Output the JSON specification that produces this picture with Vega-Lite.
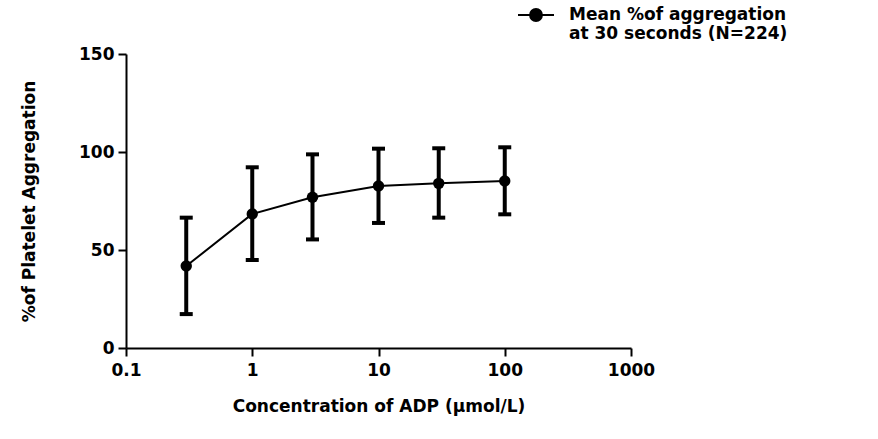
{
  "$schema": "https://vega.github.io/schema/vega-lite/v6.json",
  "autosize": "none",
  "width": 505,
  "height": 294,
  "padding": {"left": 126, "top": 54, "right": 247, "bottom": 91},
  "background": "white",
  "config": {
    "view": {"stroke": null},
    "axis": {
      "domainColor": "black", "domainWidth": 2,
      "tickColor": "black", "tickWidth": 2, "tickSize": 8,
      "labelFont": "DejaVu Sans", "labelFontWeight": "bold", "labelFontSize": 17, "labelColor": "black",
      "titleFont": "DejaVu Sans", "titleFontWeight": "bold", "titleFontSize": 17, "titleColor": "black",
      "grid": false
    }
  },
  "data": {
    "values": [
      {"conc": 0.3, "mean": 41.8, "lo": 17.3, "hi": 66.5, "series": "Mean %of aggregation"},
      {"conc": 1, "mean": 68.4, "lo": 44.9, "hi": 92.2, "series": "Mean %of aggregation"},
      {"conc": 3, "mean": 76.9, "lo": 55.4, "hi": 98.8, "series": "Mean %of aggregation"},
      {"conc": 10, "mean": 82.7, "lo": 63.8, "hi": 101.7, "series": "Mean %of aggregation"},
      {"conc": 30, "mean": 84.0, "lo": 66.5, "hi": 101.9, "series": "Mean %of aggregation"},
      {"conc": 100, "mean": 85.2, "lo": 68.2, "hi": 102.4, "series": "Mean %of aggregation"}
    ]
  },
  "encoding": {
    "x": {
      "field": "conc", "type": "quantitative",
      "scale": {"type": "log", "domain": [0.1, 1000], "nice": false},
      "axis": {"values": [0.1, 1, 10, 100, 1000], "format": "~g", "labelFlush": false, "labelPadding": 6, "title": "Concentration of ADP (μmol/L)", "titlePadding": 20}
    }
  },
  "layer": [
    {
      "mark": {"type": "errorbar", "ticks": {"size": 13, "thickness": 4, "color": "black", "opacity": 1}, "rule": {"strokeWidth": 4, "color": "black", "opacity": 1}, "color": "black"},
      "encoding": {
        "y": {"field": "lo", "type": "quantitative", "title": "%of Platelet Aggregation"},
        "y2": {"field": "hi"}
      }
    },
    {
      "mark": {"type": "line", "strokeWidth": 2, "point": {"size": 130, "filled": true, "opacity": 1}},
      "encoding": {
        "y": {
          "field": "mean", "type": "quantitative",
          "title": "%of Platelet Aggregation",
          "scale": {"domain": [0, 150], "nice": false},
          "axis": {"values": [0, 50, 100, 150], "titlePadding": 40, "labelPadding": 4}
        },
        "color": {
          "field": "series", "type": "nominal",
          "scale": {"range": ["black"]},
          "legend": {
            "title": null,
            "orient": "none",
            "legendX": 391,
            "legendY": -58,
            "symbolType": "M-1,0H1M-0.33,0A0.33,0.33 0 1 1 0.33,0A0.33,0.33 0 1 1 -0.33,0Z",
            "symbolSize": 1296,
            "symbolStrokeWidth": 2,
            "symbolFillColor": "black",
            "symbolStrokeColor": "black",
            "labelFont": "DejaVu Sans",
            "labelFontWeight": "bold",
            "labelFontSize": 17,
            "labelColor": "black",
            "labelLimit": 500,
            "labelOffset": 14,
            "labelExpr": "['Mean %of aggregation', 'at 30 seconds (N=224)']"
          }
        }
      }
    }
  ]
}
